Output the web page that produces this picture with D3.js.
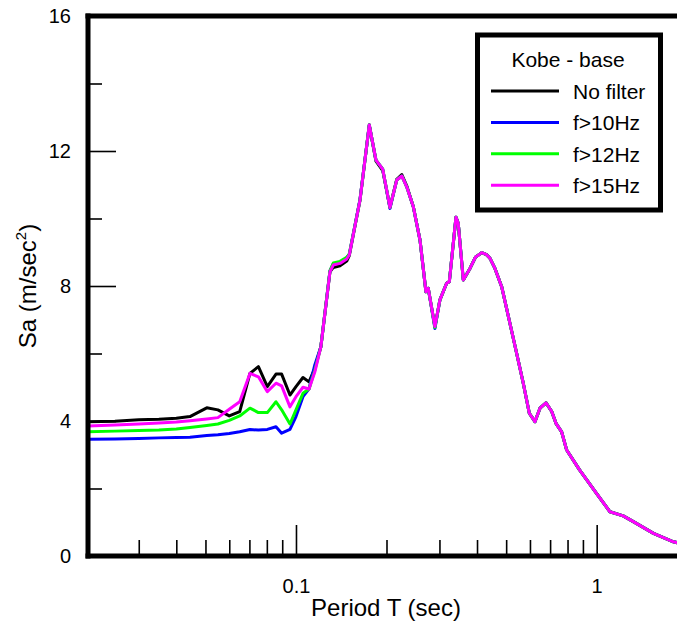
<!DOCTYPE html>
<html><head><meta charset="utf-8">
<script src="https://cdn.jsdelivr.net/npm/d3@7/dist/d3.min.js"></script>
<style>body{margin:0;background:#fff;} svg{display:block;font-family:"Liberation Sans",Arial,sans-serif;}</style>
</head><body><svg id="c" width="677" height="623"></svg>
<script>
// Period T (sec)
const periods = [0.02, 0.025, 0.03, 0.035, 0.04, 0.0444, 0.0505, 0.055, 0.06, 0.065,
  0.0703, 0.075, 0.0803, 0.0858, 0.0896, 0.0955, 0.1, 0.1055, 0.1105, 0.1155, 0.121,
  0.1297, 0.1331, 0.1401, 0.1475, 0.1504, 0.1633, 0.1753, 0.1845, 0.1943, 0.2054,
  0.2163, 0.2249, 0.2335, 0.2456, 0.2585, 0.2705, 0.2753, 0.2898, 0.3011, 0.3169,
  0.3236, 0.3405, 0.3464, 0.3601, 0.379, 0.395, 0.4146, 0.43, 0.4418, 0.4589,
  0.4831, 0.5148, 0.542, 0.570, 0.597, 0.6233, 0.6478, 0.6784, 0.7087, 0.7322,
  0.7647, 0.7947, 0.877, 1.0, 1.107, 1.225, 1.324, 1.545, 1.8, 2.0];

// Sa (m/sec^2) per series
const noFilter = [3.98, 3.99, 4.04, 4.05, 4.08, 4.13, 4.39, 4.33, 4.15, 4.28,
  5.41, 5.61, 5.02, 5.39, 5.39, 4.77, 5.02, 5.29, 5.16, 5.56, 6.2,
  8.42, 8.55, 8.60, 8.74, 8.90, 10.55, 12.77, 11.70, 11.42, 10.33,
  11.16, 11.30, 10.97, 10.35, 9.36, 7.83, 7.93, 6.80, 7.59, 8.08,
  8.13, 10.04, 9.86, 8.18, 8.52, 8.85, 8.99, 8.93, 8.82, 8.52,
  7.98, 6.89, 6.0, 5.12, 4.23, 3.98, 4.38, 4.54, 4.28, 3.93,
  3.68, 3.14, 2.55, 1.85, 1.31, 1.19, 1.02, 0.67, 0.42, 0.33];
const f10 = [3.46, 3.47, 3.48, 3.50, 3.51, 3.52, 3.57, 3.59, 3.63, 3.68,
  3.75, 3.73, 3.75, 3.83, 3.64, 3.75, 4.13, 4.72, 4.95, 5.66, 6.2,
  8.45, 8.66, 8.70, 8.84, 8.94, 10.57, 12.77, 11.73, 11.46, 10.30,
  11.14, 11.26, 10.94, 10.35, 9.36, 7.83, 7.93, 6.74, 7.59, 8.08,
  8.13, 10.04, 9.86, 8.18, 8.52, 8.85, 8.99, 8.93, 8.82, 8.52,
  7.98, 6.89, 6.0, 5.12, 4.23, 3.98, 4.38, 4.54, 4.28, 3.93,
  3.68, 3.14, 2.55, 1.85, 1.31, 1.19, 1.02, 0.67, 0.42, 0.33];
const f12 = [3.68, 3.70, 3.72, 3.73, 3.76, 3.81, 3.87, 3.91, 4.02, 4.15,
  4.38, 4.25, 4.25, 4.57, 4.33, 3.91, 4.33, 4.82, 4.95, 5.5, 6.2,
  8.45, 8.68, 8.73, 8.85, 8.94, 10.55, 12.77, 11.73, 11.46, 10.33,
  11.14, 11.26, 10.94, 10.35, 9.36, 7.83, 7.93, 6.77, 7.59, 8.08,
  8.13, 10.04, 9.86, 8.18, 8.52, 8.85, 8.99, 8.93, 8.82, 8.52,
  7.98, 6.89, 6.0, 5.12, 4.23, 3.98, 4.38, 4.54, 4.28, 3.93,
  3.68, 3.14, 2.55, 1.85, 1.31, 1.19, 1.02, 0.67, 0.42, 0.33];
const f15 = [3.85, 3.88, 3.91, 3.94, 3.97, 4.01, 4.06, 4.10, 4.35, 4.57,
  5.41, 5.31, 4.87, 5.12, 5.04, 4.42, 4.72, 5.0, 4.95, 5.45, 6.2,
  8.42, 8.62, 8.67, 8.80, 8.92, 10.55, 12.77, 11.73, 11.46, 10.33,
  11.14, 11.26, 10.94, 10.35, 9.36, 7.83, 7.93, 6.80, 7.59, 8.08,
  8.13, 10.04, 9.86, 8.18, 8.52, 8.85, 8.99, 8.93, 8.82, 8.52,
  7.98, 6.89, 6.0, 5.12, 4.23, 3.98, 4.38, 4.54, 4.28, 3.93,
  3.68, 3.14, 2.55, 1.85, 1.31, 1.19, 1.02, 0.67, 0.42, 0.33];

const seriesNames = ["No filter", "f>10Hz", "f>12Hz", "f>15Hz"];
const seriesColors = ["#000000", "#0000ff", "#00ff00", "#ff00ff"];
const seriesValues = [noFilter, f10, f12, f15];
const legendTitle = "Kobe - base";

const yMajorTicks = [0, 4, 8, 12, 16];
const yMinorTicks = [2, 6, 10, 14];
const xMajorTicks = [0.1, 1];
const xMinorTicks = [0.03, 0.04, 0.05, 0.06, 0.07, 0.08, 0.09, 0.2, 0.3, 0.4, 0.5, 0.6, 0.7, 0.8, 0.9];
const xTitle = "Period T (sec)";

const svg = d3.select("#c");
const pLeft = 88, pTop = 16, pBottom = 556, pW = 677;
const x = d3.scaleLog().domain([0.02, 2]).range([85.8, 687.2]);
const y = d3.scaleLinear().domain([0, 16]).range([pBottom, pTop]);

svg.append("defs").append("clipPath").attr("id", "clip")
  .append("rect").attr("x", pLeft).attr("y", pTop).attr("width", 700).attr("height", pBottom - pTop);

// axes
const gy = svg.append("g").attr("transform", `translate(${pLeft},0)`)
  .call(d3.axisLeft(y).tickValues(yMajorTicks).tickSizeInner(-28).tickSizeOuter(0).tickPadding(17).tickFormat(d3.format("d")));
const gy2 = svg.append("g").attr("transform", `translate(${pLeft},0)`)
  .call(d3.axisLeft(y).tickValues(yMinorTicks).tickSizeInner(-14).tickSizeOuter(0).tickFormat(""));
const gx = svg.append("g").attr("transform", `translate(0,${pBottom})`)
  .call(d3.axisBottom(x).tickValues(xMajorTicks).tickSizeInner(-31).tickSizeOuter(0).tickPadding(23).tickFormat(d => d === 1 ? "1" : "0.1"));
const gx2 = svg.append("g").attr("transform", `translate(0,${pBottom})`)
  .call(d3.axisBottom(x).tickValues(xMinorTicks).tickSizeInner(-16).tickSizeOuter(0).tickFormat(""));
[gy, gy2, gx, gx2].forEach(g => {
  g.select(".domain").remove();
  g.selectAll(".tick line").attr("stroke", "#000").attr("stroke-width", 1.6);
  g.selectAll(".tick text").attr("font-size", 20).attr("fill", "#000")
    .style("font-family", '"Liberation Sans",Arial,sans-serif');
});

// curves
const line = d3.line().x(d => x(d[0])).y(d => y(d[1]));
const plot = svg.append("g").attr("clip-path", "url(#clip)");
seriesValues.forEach((vals, i) => {
  plot.append("path")
    .datum(periods.map((p, k) => [p, vals[k]]))
    .attr("d", line)
    .attr("fill", "none")
    .attr("stroke", seriesColors[i])
    .attr("stroke-width", 3)
    .attr("stroke-linejoin", "round");
});

// frame
const frame = svg.append("g").attr("stroke", "#000").attr("stroke-width", 5).attr("stroke-linecap", "square");
frame.append("line").attr("x1", pLeft).attr("x2", pLeft).attr("y1", pTop).attr("y2", pBottom);
frame.append("line").attr("x1", pLeft).attr("x2", pW + 10).attr("y1", pTop).attr("y2", pTop);
frame.append("line").attr("x1", pLeft).attr("x2", pW + 10).attr("y1", pBottom).attr("y2", pBottom);

// axis titles
svg.append("text").attr("x", 386).attr("y", 616).attr("text-anchor", "middle")
  .attr("font-size", 24).attr("fill", "#000").text(xTitle);
const yt = svg.append("text").attr("transform", "translate(36,286) rotate(-90)")
  .attr("text-anchor", "middle").attr("font-size", 24).attr("fill", "#000");
yt.append("tspan").text("Sa (m/sec");
yt.append("tspan").attr("font-size", 15).attr("dy", -10).text("2");
yt.append("tspan").attr("dy", 10).text(")");

// legend
const lg = svg.append("g");
lg.append("rect").attr("x", 477.5).attr("y", 35).attr("width", 183).attr("height", 175)
  .attr("fill", "#fff").attr("stroke", "#000").attr("stroke-width", 5);
lg.append("text").attr("x", 568).attr("y", 67).attr("text-anchor", "middle")
  .attr("font-size", 21).attr("fill", "#000").text(legendTitle);
seriesNames.forEach((n, i) => {
  const ly = 91 + i * 31.4;
  lg.append("line").attr("x1", 491).attr("x2", 559).attr("y1", ly).attr("y2", ly)
    .attr("stroke", seriesColors[i]).attr("stroke-width", 3);
  lg.append("text").attr("x", 573).attr("y", ly + 8).attr("font-size", 21).attr("fill", "#000").text(n);
});
</script></body></html>
